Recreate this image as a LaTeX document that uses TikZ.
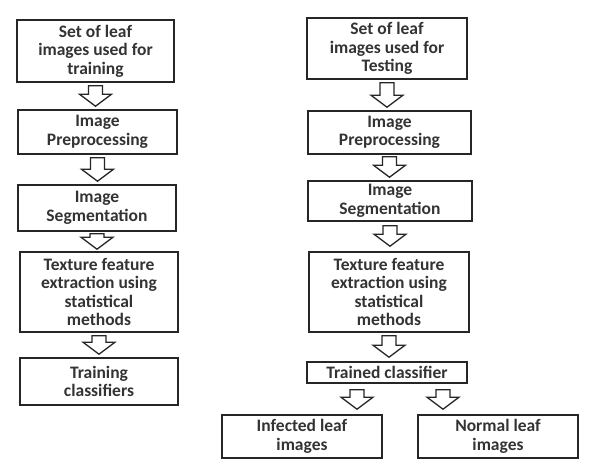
\documentclass[tikz,border=0pt]{standalone}
\usepackage{fontspec}
\setmainfont{Carlito}
\usetikzlibrary{calc}
\newcommand{\barr}[2]{%
  \draw[barrowline] let \p1=(#1), \p2=(#2) in
    (\x1-7pt,\y1) -- (\x1+7pt,\y1) -- (\x1+7pt,\y2+12pt) -- (\x1+16pt,\y2+12pt)
    -- (\x1,\y2) -- (\x1-16pt,\y2+12pt) -- (\x1-7pt,\y2+12pt) -- cycle;}
\begin{document}
\begin{tikzpicture}[x=1pt,y=-1pt,
  box/.style={draw=black!85,line width=1.6pt,align=center,inner sep=0pt,
    font=\bfseries\fontsize{17.5}{18.5}\selectfont,text=black!80},
  barrowline/.style={draw=black!85,line width=1.3pt,line join=miter,fill=white}]
\useasboundingbox (0,0) rectangle (590,461);
% left column
\node[box,minimum width=157pt,minimum height=62pt] (L1) at (95.5,51) {Set of leaf\\images used for\\training};
\node[box,minimum width=159pt,minimum height=44pt] (L2) at (97.5,132) {Image\\Preprocessing};
\node[box,minimum width=158pt,minimum height=46pt] (L3) at (97,208) {Image\\Segmentation};
\node[box,minimum width=158pt,minimum height=80pt] (L4) at (99,292) {Texture feature\\extraction using\\statistical\\methods};
\node[box,minimum width=158pt,minimum height=47pt] (L5) at (99,381.5) {Training\\classifiers};
% right column
\node[box,minimum width=160pt,minimum height=61pt] (R1) at (387,48.5) {Set of leaf\\images used for\\Testing};
\node[box,minimum width=163pt,minimum height=43pt] (R2) at (389.5,132.5) {Image\\Preprocessing};
\node[box,minimum width=164pt,minimum height=40pt] (R3) at (390,201) {Image\\Segmentation};
\node[box,minimum width=160pt,minimum height=80pt] (R4) at (389,292) {Texture feature\\extraction using\\statistical\\methods};
\node[box,minimum width=160pt,minimum height=21pt] (R5) at (387,372.5) {Trained classifier};
\node[box,minimum width=160pt,minimum height=43pt] (I) at (302,436.5) {Infected leaf\\images};
\node[box,minimum width=160pt,minimum height=43pt] (N) at (498,436.5) {Normal leaf\\images};
% block arrows
\barr{$(L1.south)+(0,3)$}{$(L2.north)+(0,-3)$}
\barr{$(L2.south)+(0,3)$}{$(L3.north)+(0,-3)$}
\barr{$(L3.south)+(0,2)$}{$(L4.north)+(0,-2)$}
\barr{$(L4.south)+(0,3)$}{$(L5.north)+(0,-3)$}
\barr{$(R1.south)+(0,3)$}{$(R2.north)+(0,-3)$}
\barr{$(R2.south)+(0,2)$}{$(R3.north)+(0,-3)$}
\barr{$(R3.south)+(0,4)$}{$(R4.north)+(0,-5)$}
\barr{$(R4.south)+(0,3)$}{$(R5.north)+(0,-4)$}
\barr{$(R5.south)+(-30,6)$}{$(I.north)+(0,-5)$}
\barr{$(R5.south)+(56,6)$}{$(N.north)+(0,-5)$}
\end{tikzpicture}
\end{document}
